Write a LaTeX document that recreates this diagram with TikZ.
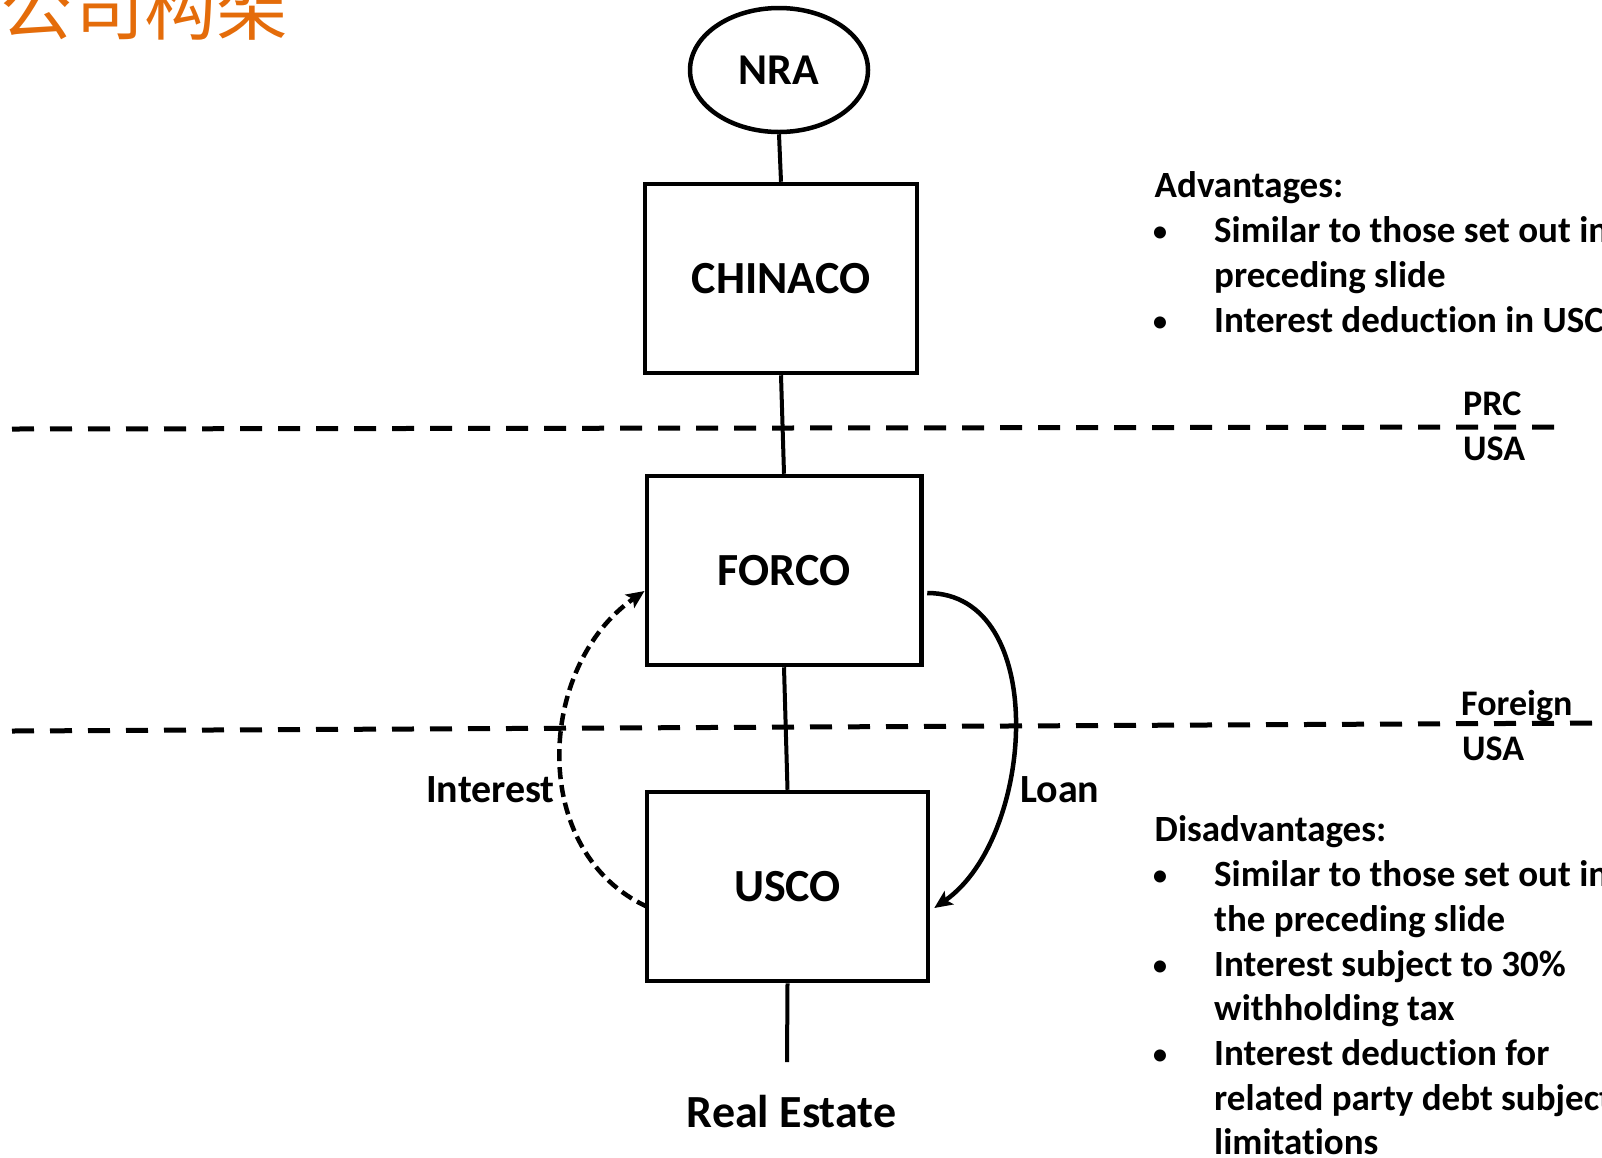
\documentclass[tikz,border=0pt]{standalone}
\usepackage{fontspec}
\setmainfont{Carlito}[Ligatures=NoCommon]
\newfontfamily\cjkfont{Noto Sans CJK SC}
\usetikzlibrary{arrows.meta,shapes.geometric,calc}
\definecolor{titleorange}{RGB}{228,108,10}

\begin{document}
\begin{tikzpicture}[x=1pt,y=-1pt,
  entity/.style={draw,line width=4.5pt,rectangle,minimum height=189pt,inner sep=0pt,
    font=\fontsize{46}{55}\selectfont\bfseries},
  link/.style={line width=4pt},
  flow/.style={line width=4.5pt},
  border/.style={line width=5pt,dash pattern=on 22pt off 16pt},
  lbl/.style={inner sep=0pt,font=\fontsize{40}{48}\selectfont\bfseries},
  side/.style={inner sep=0pt,anchor=base west,font=\fontsize{37}{45}\selectfont\bfseries},
  dot/.style={inner sep=0pt,anchor=base,font=\fontsize{34}{45}\selectfont\mdseries},
  zone/.style={inner sep=0pt,anchor=base west,font=\fontsize{36}{44}\selectfont\bfseries},
  flowtip/.style={-{Stealth[length=18pt,width=16pt,inset=4pt]}}
]
\useasboundingbox (0,0) rectangle (1602,1157);
\clip (0,0) rectangle (1602,1157);

% heading
\node[anchor=base west,inner sep=0pt,text=titleorange,
  font=\cjkfont\fontsize{72}{80}\selectfont] (title) at (0,34) {公司构架};

% jurisdiction borders
\coordinate (prcL) at (12,429);
\coordinate (prcR) at (1558,427);
\coordinate (forL) at (12,731);
\coordinate (forR) at (1602,723);
\draw[border] (prcL) -- (prcR);
\draw[border] (forL) -- (forR);

% ownership chain
\node[ellipse,draw,line width=4.5pt,minimum width=178pt,minimum height=124pt,inner sep=0pt,
  font=\fontsize{44}{52}\selectfont\bfseries] (nra) at (779,70) {NRA};
\node[entity,minimum width=272pt] (chinaco) at (781,278.5) {CHINACO};
\node[entity,minimum width=274.5pt] (forco) at (784,570.5) {FORCO};
\node[entity,minimum width=281pt] (usco) at (787.5,886.5) {USCO};
\coordinate (estate) at (787,1062);
\node[anchor=base,inner sep=0pt,font=\fontsize{46}{55}\selectfont\bfseries] (re) at (791.5,1127) {Real Estate};

\draw[link] (nra.south) -- (chinaco.north);
\draw[link] (chinaco.south) -- (forco.north);
\draw[link] (forco.south) -- (usco.north);
\draw[link] (usco.south) -- (estate);

% loan and interest flows
\draw[flow,dash pattern=on 12pt off 6pt,flowtip]
  ($(usco.west)+(3,20.5)$) .. controls +(-120,-55) and +(-108,75) .. ($(forco.west)+(0,20.5)$);
\draw[flow,flowtip]
  ($(forco.east)+(3.75,22.5)$) .. controls +(123,0) and +(101,-70) .. ($(usco.east)+(4,21.5)$);
\node[lbl,anchor=east] (interest) at (555,790) {Interest};
\node[lbl,anchor=west] (loan) at (1020,790) {Loan};

% border labels
\node[zone] (prc) at (1463,415) {PRC};
\node[zone] (usa1) at (1463,460) {USA};
\node[zone] (foreign) at (1461,715) {Foreign};
\node[zone] (usa2) at (1462,760) {USA};

% advantages
\node[side] (advhead) at (1154.5,197) {Advantages:};
\node[dot] (advb1) at (1160,242) {•};
\node[side] (adv1a) at (1214,242) {Similar to those set out in};
\node[side] (adv1b) at (1214,287) {preceding slide};
\node[dot] (advb2) at (1160,332) {•};
\node[side] (adv2a) at (1214,332) {Interest deduction in USCO};

% disadvantages
\node[side] (dishead) at (1154.5,841) {Disadvantages:};
\node[dot] (disb1) at (1160,886) {•};
\node[side] (dis1a) at (1214,886) {Similar to those set out in};
\node[side] (dis1b) at (1214,931) {the preceding slide};
\node[dot] (disb2) at (1160,976) {•};
\node[side] (dis2a) at (1214,976) {Interest subject to 30\%};
\node[side] (dis2b) at (1214,1020) {withholding tax};
\node[dot] (disb3) at (1160,1065) {•};
\node[side] (dis3a) at (1214,1065) {Interest deduction for};
\node[side] (dis3b) at (1214,1110) {related party debt subject};
\node[side] (dis3c) at (1214,1154) {limitations};
\end{tikzpicture}
\end{document}
